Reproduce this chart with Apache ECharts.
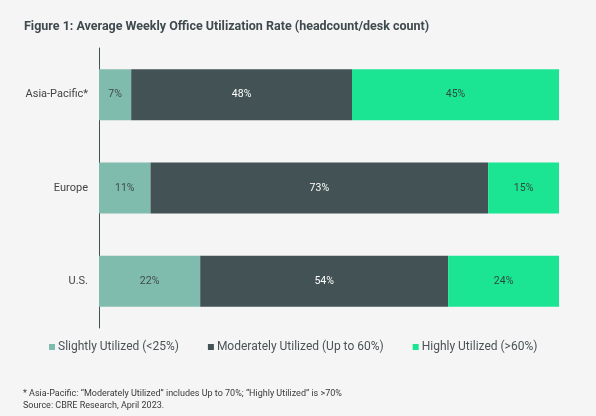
<!DOCTYPE html>
<html>
<head>
<meta charset="utf-8">
<script src="https://cdn.jsdelivr.net/npm/echarts@6/dist/echarts.min.js"></script>
<style>
html,body{margin:0;padding:0;background:#f5f5f5;}
#chart{width:596px;height:416px;}
</style>
</head>
<body>
<div id="chart"></div>
<script>
const categories = ['Asia-Pacific*', 'Europe', 'U.S.'];
const slightly = [7.0, 11.2, 22.0];
const moderately = [48.0, 73.4, 53.9];
const highly = [45.0, 15.4, 24.1];
const seriesNames = ['Slightly Utilized (<25%)', 'Moderately Utilized (Up to 60%)', 'Highly Utilized (>60%)'];
const titleText = 'Figure 1: Average Weekly Office Utilization Rate (headcount/desk count)';
const footnote1 = '* Asia-Pacific: \u201cModerately Utilized\u201d includes Up to 70%; \u201cHighly Utilized\u201d is >70%';
const footnote2 = 'Source: CBRE Research, April 2023.';

const colors = ['#80bcad', '#435254', '#1be592'];
const labelColors = ['#3e4b4d', '#ffffff', '#2f4a40'];
const FONT = 'Roboto, "Noto Sans", sans-serif';

const chart = echarts.init(document.getElementById('chart'), null, {renderer: 'canvas'});
const data = [slightly, moderately, highly];
chart.setOption({
  backgroundColor: '#f5f5f5',
  animation: false,
  title: [
    {text: titleText, left: 19, top: 15, textStyle: {fontFamily: FONT, fontSize: 12.5, fontWeight: 'bold', color: '#3f4a4e'}},
    {text: footnote1, left: 18, top: 384, textStyle: {fontFamily: FONT, fontSize: 9, fontWeight: 'normal', color: '#3a3a3a'}},
    {text: footnote2, left: 18, top: 396, textStyle: {fontFamily: FONT, fontSize: 9, fontWeight: 'normal', color: '#3a3a3a'}}
  ],
  legend: {
    left: 44, top: 336,
    itemWidth: 6, itemHeight: 6, itemGap: 29,
    icon: 'rect',
    textStyle: {fontFamily: FONT, fontSize: 12, color: '#4a5356', padding: [0,0,0,-2]},
    data: seriesNames
  },
  grid: {left: 99, right: 37, top: 48, bottom: 88, containLabel: false},
  xAxis: {type: 'value', min: 0, max: 100, show: false},
  yAxis: {
    type: 'category', data: categories, inverse: true,
    axisLine: {show: true, lineStyle: {color: '#435254', width: 1}},
    axisTick: {show: false},
    axisLabel: {fontFamily: FONT, fontSize: 11, color: '#444', margin: 11}
  },
  series: seriesNames.map((n, i) => ({
    name: n, type: 'bar', stack: 'total', barWidth: 51,
    itemStyle: {color: colors[i]},
    label: {show: true, position: 'inside', formatter: p => Math.round(p.value) + '%', fontFamily: FONT, fontSize: 10.5, color: labelColors[i]},
    data: data[i]
  }))
});
</script>
</body>
</html>
